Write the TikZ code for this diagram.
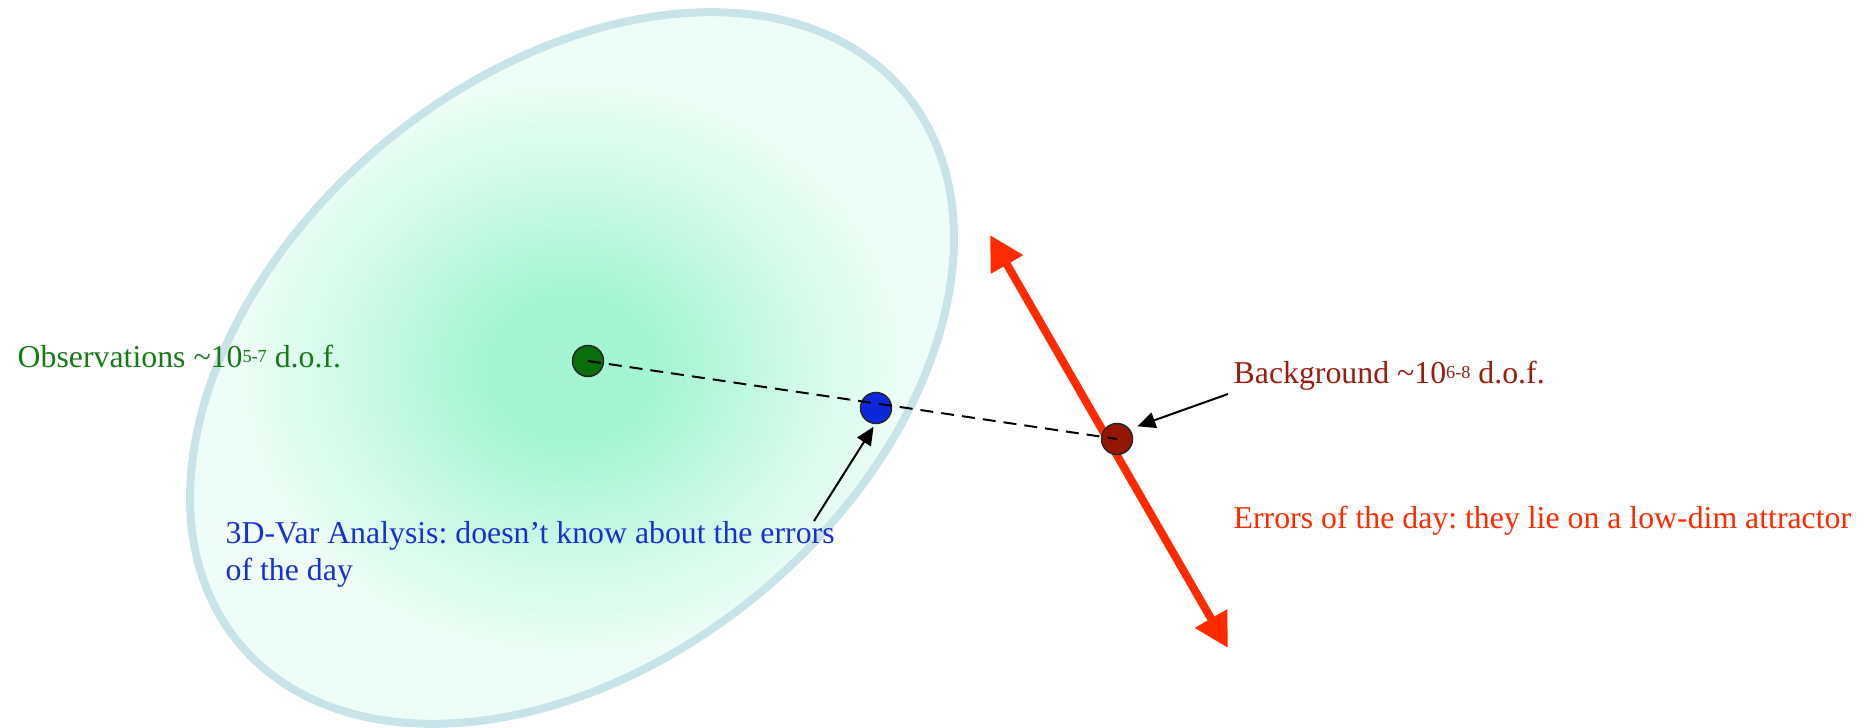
\documentclass[tikz,border=0pt]{standalone}
\usepackage{fontspec}
\setmainfont{Liberation Serif}
\usetikzlibrary{arrows.meta}
\frenchspacing

\definecolor{obsgreen}{RGB}{22,122,22}
\definecolor{obsdot}{RGB}{10,110,12}
\definecolor{anablue}{RGB}{22,50,210}
\definecolor{anadot}{RGB}{12,40,220}
\definecolor{bgred}{RGB}{155,28,14}
\definecolor{bgdot}{RGB}{150,22,6}
\definecolor{errred}{RGB}{255,42,0}
\definecolor{ellline}{RGB}{200,228,232}
\definecolor{ellin}{RGB}{165,245,212}
\definecolor{ellout}{RGB}{238,253,247}

\pgfdeclareradialshading{ellfade}{\pgfpoint{0bp}{0bp}}{%
  color(0bp)=(ellin); color(5bp)=(ellin); color(19bp)=(ellout);
  color(25bp)=(ellout); color(50bp)=(ellout)}

\begin{document}
\begin{tikzpicture}[>=Stealth,
    dot/.style={circle, draw=black!85, line width=0.015cm, minimum size=0.31cm, inner sep=0pt},
    lbl/.style={anchor=base west, inner sep=0pt, font=\fontsize{9.05pt}{10.5pt}\selectfont},
    pointer/.style={-{Triangle[length=0.18cm,width=0.16cm]}, line width=0.02cm},
    errtip/.tip={Triangle[length=0.34cm,width=0.35cm]}]
  \def\expo#1{\raisebox{1.7pt}{\fontsize{5.2pt}{6pt}\selectfont#1}}
  \useasboundingbox (0,0) rectangle (18.68,-7.28);
  % spread of the observations
  \shade[shading=ellfade, draw=ellline, line width=0.08cm,
         rotate around={39.5:(5.72,-3.68)}] (5.72,-3.68) ellipse (4.32 and 2.93);
  % errors of the day
  \coordinate (errtop) at (9.90,-2.35);
  \coordinate (errbot) at (12.28,-6.48);
  \draw[errred, line width=0.08cm, errtip-errtip] (errtop) -- (errbot);
  % states
  \node[dot, fill=obsdot] (obs) at (5.88,-3.61) {};
  \node[dot, fill=anadot] (ana) at (8.76,-4.08) {};
  \node[dot, fill=bgdot] (bg) at (11.17,-4.39) {};
  \draw[line width=0.02cm, dash pattern=on 0.13cm off 0.08cm] (obs.center) -- (bg.center);
  % labels
  \node[lbl, text=obsgreen] (obslbl) at (0.17,-3.68) {Observations \textasciitilde10\expo{5-7} d.o.f.};
  \node[lbl, text=bgred] (bglbl) at (12.33,-3.84) {Background \textasciitilde10\expo{6-8} d.o.f.};
  \node[lbl, text=errred] (errlbl) at (12.33,-5.28) {Errors of the day: they lie on a low-dim attractor};
  \node[lbl, text=anablue, align=left] (analbl) at (2.25,-5.80)
    {3D-Var Analysis: doesn't know about the errors\\of the day};
  % pointers
  \coordinate (bgtail) at (12.28,-3.94);
  \coordinate (anatail) at (8.14,-5.21);
  \draw[pointer, shorten >=0.08cm] (bgtail) -- (bg.38);
  \draw[pointer, shorten >=0.03cm] (anatail) -- (ana.-93);
\end{tikzpicture}
\end{document}
